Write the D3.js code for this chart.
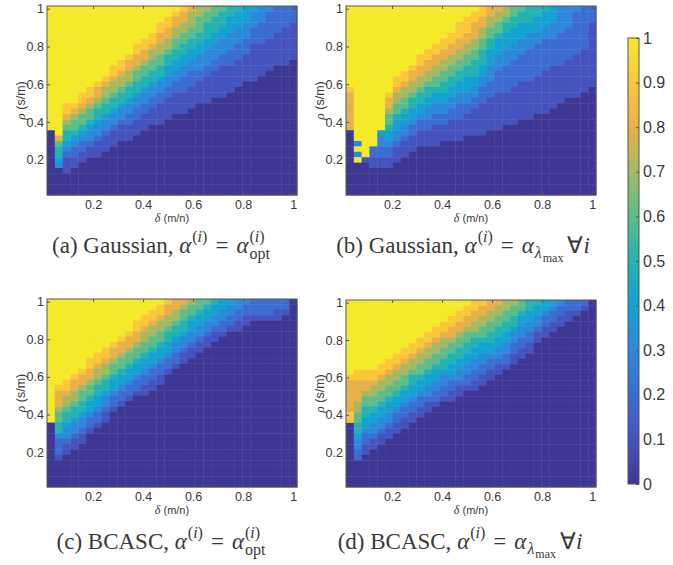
<!DOCTYPE html>
<html>
<head>
<meta charset="utf-8">
<script src="https://cdn.jsdelivr.net/npm/d3@7"></script>
<style>
  body { margin: 0; background: #fff; }
  svg text { fill: #3a3a3a; }
</style>
</head>
<body>
<div id="chart"></div>
<script>
// Phase transition maps: each string is one delta column, cells listed from
// rho = 1 (top) down to rho = 0 (bottom). 'A' = 1.0, digits = tenths,
// missing trailing cells are 0. Spaces only group cells by five.
const gaussOpt = [
  "AAAAA AAAAA AAAAA AAAAA AAA",
  "AAAAA AAAAA AAAAA AAAAA AAAA8 65543",
  "AAAAA AAAAA AAAAA AAA99 87655 43211 1",
  "AAAAA AAAAA AAAAA AAA98 76654 32211",
  "AAAAA AAAAA AAAAA A9987 66543 2211",
  "AAAAA AAAAA AAAAA 99876 65433 211",
  "AAAAA AAAAA AAAA9 88765 54332 111",
  "AAAAA AAAAA AAA98 77655 43321 11",
  "AAAAA AAAAA A9987 76554 33211 1",
  "AAAAA AAAAA 99877 65543 32111",
  "AAAAA AAAA9 88776 55433 22111",
  "AAAAA AA998 87665 54332 2111",
  "AAAAA A9988 76655 43322 111",
  "AAAAA 99877 66554 33221 11",
  "AAA99 88776 65543 32211 11",
  "AA998 87765 54433 22111 1",
  "A9887 76655 44332 21111",
  "98877 66554 43322 21111",
  "87776 65544 33222 1111",
  "77666 55443 33221 111",
  "76655 54433 32211 111",
  "66555 44333 22111 11",
  "65554 43332 21111 11",
  "55444 33322 21111 1",
  "54443 33222 11111",
  "44433 32221 1111",
  "43332 22111 1111",
  "33322 22111 111",
  "32222 21111 11",
  "22222 11111 1",
  "22221 11111 1",
  "22211 11111"
];

const gaussLam = [
  "AAAAA AAAAA AAAAA 98888 888",
  "AAAAA AAAAA AAAAA AAAAA AAAAA 3A3A",
  "AAAAA AAAAA AAAAA AAAAA AAAAA AAA1",
  "AAAAA AAAAA AAAAA AAAAA AAAAA A2211",
  "AAAAA AAAAA AAAAA AAAAA AAA43 32211",
  "AAAAA AAAAA AAAAA A9887 66544 32211",
  "AAAAA AAAAA AAA99 87766 54433 2111",
  "AAAAA AAAAA AA998 77665 44332 111",
  "AAAAA AAAAA A9887 76554 43221 11",
  "AAAAA AAAA9 98877 65544 32211 1",
  "AAAAA AAA99 88776 55443 32211 1",
  "AAAAA AA998 87766 54433 22111 1",
  "AAAAA A9988 77665 54433 22111",
  "AAAAA 99887 76655 44332 21111",
  "AAA99 98877 66554 43322 21111",
  "AA999 88776 65544 43322 1111",
  "A9988 87766 55544 33221 1111",
  "99887 76655 54433 22211 1111",
  "88776 65544 43332 22111 111",
  "87766 54443 33222 21111 111",
  "77655 44433 32222 21111 11",
  "66554 44333 22222 11111 11",
  "65544 43332 22221 11111 1",
  "55544 33322 22221 11111 1",
  "55444 33222 22211 11111",
  "54443 32222 22111 11111",
  "44433 32222 21111 1111",
  "33333 22222 21111 111",
  "33332 22222 11111 11",
  "32222 22221 11111 11",
  "22222 22211 11111 1",
  "22211 11111 11111"
];

const bcascOpt = [
  "AAAAA AAAAA AAAAA AAAAA AAA",
  "AAAAA AAAAA AAAAA A9888 76655 32221",
  "AAAAA AAAAA AAAAA 99877 65543 3211",
  "AAAAA AAAAA AAAA9 88776 55433 211",
  "AAAAA AAAAA AAA98 87665 54332 11",
  "AAAAA AAAAA A9988 76654 43221",
  "AAAAA AAAAA 99877 65544 3221",
  "AAAAA AAAA9 98776 55433 211",
  "AAAAA AAA98 87665 44322 1",
  "AAAAA AA988 76654 43221",
  "AAAAA A9887 66544 3221",
  "AAAA9 98876 65443 221",
  "AAA99 87766 54432 211",
  "AA998 77665 44322 11",
  "A9987 76654 43221 1",
  "98877 65544 3221",
  "88776 55433 221",
  "87665 54332 11",
  "76654 43321 1",
  "66544 33211",
  "65443 3211",
  "54433 211",
  "44332 21",
  "43322 1",
  "33221 1",
  "32211",
  "2221",
  "2221",
  "2221",
  "2211",
  "221",
  ""
];

const bcascLam = [
  "AAAAA AAAAA AAAA9 88888 899",
  "AAAAA AAAAA AAA99 88887 76655 43322",
  "AAAAA AAAAA AAA99 88766 55443 2211",
  "AAAAA AAAAA AAA99 87766 54433 211",
  "AAAAA AAAAA AA998 77665 44332 11",
  "AAAAA AAAAA A9987 76654 43321 1",
  "AAAAA AAAAA 99877 66544 32211",
  "AAAAA AAAA9 98776 65443 2211",
  "AAAAA AAA99 87765 54432 211",
  "AAAAA AA998 77665 44322 11",
  "AAAAA A9987 76654 43321 1",
  "AAAAA 99877 66544 33221",
  "AAAA9 98776 65543 3221",
  "AAA99 88766 55443 2211",
  "AA998 87665 54433 211",
  "A9988 76655 44332 21",
  "99887 76554 43322 11",
  "98877 66544 33221 1",
  "88776 65544 32211",
  "87766 55443 3211",
  "77665 54433 221",
  "76655 43322 11",
  "66544 33221 1",
  "55443 32211",
  "54433 211",
  "44322 11",
  "43221 1",
  "32211",
  "2211",
  "221",
  "21",
  ""
];

const nDelta = 32, nRho = 35;
const axisTicks = [0.2, 0.4, 0.6, 0.8, 1];
const cbTicks = [0, 0.1, 0.2, 0.3, 0.4, 0.5, 0.6, 0.7, 0.8, 0.9, 1];

// parula-like map, as it looks in the picture
const cmapStops = [0, 0.1, 0.2, 0.3, 0.4, 0.5, 0.6, 0.7, 0.8, 0.9, 1];
const cmapColors = ["#3e3894", "#4553be", "#3c6cd1", "#2d88da", "#14a2d2",
                    "#24b2b2", "#5bbd8b", "#a5b963", "#e9b049", "#f9c83b", "#f4ea2a"];
const color = d3.scaleLinear().domain(cmapStops).range(cmapColors).interpolate(d3.interpolateRgb);

const W = 673, H = 565;
const svg = d3.select("#chart").append("svg").attr("width", W).attr("height", H);

function parseCols(cols) {
  return cols.map(s => Array.from(s.replace(/ /g, "").padEnd(nRho, "0"),
    ch => ch === "A" ? 1 : +ch / 10));
}

const sans = "'Liberation Sans', Arial, Helvetica, sans-serif";
const serif = "'Liberation Serif', 'Times New Roman', serif";
const frameColor = "#555";

const panels = [
  { data: gaussOpt, x0: 47, x1: 297, y0: 6, y1: 195 },
  { data: gaussLam, x0: 346, x1: 596, y0: 6, y1: 195 },
  { data: bcascOpt, x0: 47, x1: 297, y0: 299, y1: 487 },
  { data: bcascLam, x0: 346, x1: 596, y0: 300, y1: 487 }
];

const dStep = 1 / nDelta, rStep = 1 / nRho;

panels.forEach(p => {
  const cols = parseCols(p.data);
  const x = d3.scaleLinear().domain([dStep / 2, 1 + dStep / 2]).range([p.x0, p.x1]);
  const y = d3.scaleLinear().domain([rStep / 2, 1 + rStep / 2]).range([p.y1, p.y0]);
  const g = svg.append("g");

  const cells = [];
  cols.forEach((col, ci) => {
    const delta = (ci + 1) * dStep;
    col.forEach((v, ri) => {
      cells.push({ delta, rho: 1 - ri * rStep, v });
    });
  });

  g.selectAll("rect.cell").data(cells).join("rect")
    .attr("class", "cell")
    .attr("x", d => x(d.delta - dStep / 2))
    .attr("y", d => y(d.rho + rStep / 2))
    .attr("width", d => x(d.delta + dStep / 2) - x(d.delta - dStep / 2) + 0.4)
    .attr("height", d => y(d.rho - rStep / 2) - y(d.rho + rStep / 2) + 0.4)
    .attr("fill", d => color(d.v));

  const fmt = d => d === 1 ? "1" : d.toFixed(1);
  const styleAxis = a => {
    a.select(".domain").remove();
    a.selectAll(".tick line").attr("stroke", frameColor);
    a.selectAll("text").attr("font-family", sans).attr("font-size", 12.5).attr("fill", "#3a3a3a");
  };

  g.append("g").attr("transform", `translate(0,${p.y1})`)
    .call(d3.axisBottom(x).tickValues(axisTicks).tickFormat(fmt).tickSize(-3).tickSizeOuter(0).tickPadding(5))
    .call(styleAxis);
  g.append("g").attr("transform", `translate(${p.x0},0)`)
    .call(d3.axisLeft(y).tickValues(axisTicks).tickFormat(fmt).tickSize(-3).tickSizeOuter(0).tickPadding(3))
    .call(styleAxis);
  g.append("g").attr("transform", `translate(0,${p.y0})`)
    .call(d3.axisTop(x).tickValues(axisTicks).tickFormat("").tickSize(-3).tickSizeOuter(0))
    .call(styleAxis);
  g.append("g").attr("transform", `translate(${p.x1},0)`)
    .call(d3.axisRight(y).tickValues(axisTicks).tickFormat("").tickSize(-3).tickSizeOuter(0))
    .call(styleAxis);

  g.append("rect")
    .attr("x", p.x0).attr("y", p.y0)
    .attr("width", p.x1 - p.x0).attr("height", p.y1 - p.y0)
    .attr("fill", "none").attr("stroke", frameColor).attr("stroke-width", 1);

  const xl = g.append("text")
    .attr("x", (p.x0 + p.x1) / 2).attr("y", p.y1 + 27)
    .attr("text-anchor", "middle").attr("font-family", sans).attr("font-size", 11);
  xl.append("tspan").attr("font-family", serif).attr("font-style", "italic").attr("font-size", 12).text("δ");
  xl.append("tspan").text(" (m/n)");

  const cy = (p.y0 + p.y1) / 2;
  const yl = g.append("text")
    .attr("transform", `translate(${p.x0 - 22},${cy}) rotate(-90)`)
    .attr("text-anchor", "middle").attr("font-family", sans).attr("font-size", 12.5);
  yl.append("tspan").attr("font-family", serif).attr("font-style", "italic").attr("font-size", 13.5).text("ρ");
  yl.append("tspan").text(" (s/m)");
});

// colour bar
const cb = { x: 628, w: 11, y0: 38, y1: 484 };
const cbScale = d3.scaleLinear().domain([0, 1]).range([cb.y1, cb.y0]);
const grad = svg.append("defs").append("linearGradient")
  .attr("id", "cbgrad").attr("x1", 0).attr("y1", 1).attr("x2", 0).attr("y2", 0);
d3.range(0, 1.0001, 0.02).forEach(t => {
  grad.append("stop").attr("offset", t).attr("stop-color", color(t));
});
svg.append("rect").attr("x", cb.x).attr("y", cb.y0).attr("width", cb.w)
  .attr("height", cb.y1 - cb.y0).attr("fill", "url(#cbgrad)")
  .attr("stroke", frameColor).attr("stroke-width", 1);
svg.append("g").attr("transform", `translate(${cb.x + cb.w},0)`)
  .call(d3.axisRight(cbScale).tickValues(cbTicks)
    .tickFormat(d => d === 0 ? "0" : d === 1 ? "1" : d.toFixed(1))
    .tickSize(-3).tickSizeOuter(0).tickPadding(4))
  .call(a => {
    a.select(".domain").remove();
    a.selectAll(".tick line").attr("stroke", frameColor);
    a.selectAll("text").attr("font-family", sans).attr("font-size", 16).attr("fill", "#3a3a3a");
  });

// sub-figure captions
const F = 23, S = 16, T = 12;
const captions = [
  { cx: 161, y: 253, label: "(a) Gaussian, ", kind: "opt" },
  { cx: 463, y: 253, label: "(b) Gaussian, ", kind: "lam" },
  { cx: 161, y: 549, label: "(c) BCASC, ", kind: "opt" },
  { cx: 460, y: 549, label: "(d) BCASC, ", kind: "lam" }
];

function run(t, o = {}) { return Object.assign({ t, size: F, dy: 0, it: false }, o); }

captions.forEach(c => {
  const supI = [run("(", { size: S, dy: -11 }), run("i", { size: S, dy: -11, it: true }), run(")", { size: S, dy: -11 })];
  const pieces = [run(c.label), run("α", { it: true }), { gap: 1 }, ...supI,
    { gap: 8 }, run("="), { gap: 8 }, run("α", { it: true }), { gap: 1 }];
  if (c.kind === "opt") {
    pieces.push({ stack: [supI, [run("opt", { size: S, dy: 6 })]] });
  } else {
    pieces.push(run("λ", { size: S, dy: 5, it: true }), { gap: 1 }, run("max", { size: T, dy: 9 }),
      { gap: 4 }, run("∀"), run("i", { it: true }));
  }
  const g = svg.append("g");
  let xpos = 0;
  const put = (r, x0) => {
    const t = g.append("text").attr("x", x0).attr("y", c.y + r.dy)
      .attr("font-family", serif).attr("font-size", r.size)
      .attr("font-style", r.it ? "italic" : "normal")
      .attr("fill", "#111").style("white-space", "pre").text(r.t);
    return t.node().getComputedTextLength();
  };
  pieces.forEach(pc => {
    if (pc.gap) {
      xpos += pc.gap;
    } else if (pc.stack) {
      let wmax = 0;
      pc.stack.forEach(line => {
        let xx = xpos;
        line.forEach(r => { xx += put(r, xx); });
        wmax = Math.max(wmax, xx - xpos);
      });
      xpos += wmax;
    } else {
      xpos += put(pc, xpos);
    }
  });
  g.attr("transform", `translate(${c.cx - xpos / 2},0)`);
});
</script>
</body>
</html>
